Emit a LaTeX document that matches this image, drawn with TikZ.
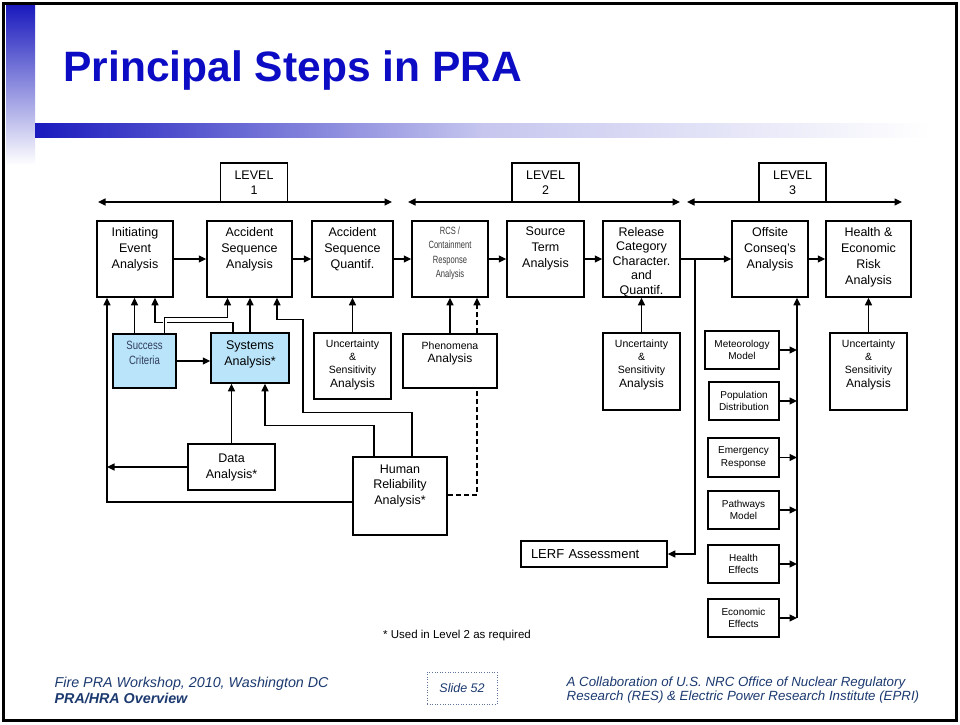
\documentclass[tikz,border=0pt]{standalone}
\usepackage{fontspec}
\usepackage{graphicx}
\setmainfont{Liberation Sans}
\usetikzlibrary{arrows.meta,positioning}
\definecolor{titleblue}{RGB}{12,12,196}
\definecolor{barblue}{RGB}{26,26,190}
\definecolor{footblue}{RGB}{28,58,112}
\definecolor{critfill}{RGB}{185,228,250}
\definecolor{crittext}{RGB}{50,62,92}
\definecolor{rcstext}{RGB}{60,60,60}
\newcommand{\topbox}[4][6pt]{\parbox[c][#3][t]{#2}{\centering\vspace*{#1}#4}}
\begin{document}
\begin{tikzpicture}[x=1pt,y=-1pt,line width=1.3pt,
    >={Triangle[length=7.5pt,width=7pt]},
    box/.style={draw,fill=white,line width=1.5pt,inner sep=0pt,align=center,
      font=\fontsize{12.5}{16}\selectfont},
    smallbox/.style={box,minimum width=71pt,minimum height=38pt,
      font=\fontsize{10}{12.5}\selectfont},
    unbox/.style={box,font=\fontsize{10.5}{13.3}\selectfont},
    levelbox/.style={box,minimum width=67pt,minimum height=39pt,
      font=\fontsize{12.5}{15}\selectfont},
    critbox/.style={box,fill=critfill},
    foot/.style={anchor=base west,inner sep=0pt,text=footblue}]
  \useasboundingbox (0,0) rectangle (960,724);
  \fill[white] (0,0) rectangle (960,724);
  \shade[top color=barblue,bottom color=white] (6,5) rectangle (35,165);
  \shade[left color=barblue,right color=white,middle color=barblue!25] (35,123) rectangle (930,137);
  \draw[line width=3pt] (3.5,3.5) rectangle (956.5,720.5);
  \node[anchor=base west,inner sep=0pt,text=titleblue,
    font=\fontsize{42.5}{48}\selectfont\bfseries] (title) at (63,81) {Principal Steps in PRA};

  \coordinate (l1w) at (98,202);
  \coordinate (l1e) at (392,202);
  \coordinate (l2w) at (408,202);
  \coordinate (l2e) at (680,202);
  \coordinate (l3w) at (687,202);
  \coordinate (l3e) at (902,202);
  \draw[<->] (l1w) -- (l1e);
  \draw[<->] (l2w) -- (l2e);
  \draw[<->] (l3w) -- (l3e);
  \node[levelbox] (lev1) at (254,182.5) {LEVEL\\1};
  \node[levelbox] (lev2) at (545.5,182.5) {LEVEL\\2};
  \node[levelbox] (lev3) at (792.5,182.5) {LEVEL\\3};

  \node[box] (ie) at (135,259) {\topbox{76pt}{76pt}{Initiating\\Event\\Analysis}};
  \node[box] (asa) at (249.5,259) {\topbox{85pt}{76pt}{Accident\\Sequence\\Analysis}};
  \node[box] (asq) at (352.5,259) {\topbox{81pt}{76pt}{Accident\\Sequence\\Quantif.}};
  \node[box,text=rcstext,font=\fontsize{10.5}{14.5}\selectfont] (rcs) at (450,259)
    {\scalebox{0.72}[1]{\topbox[5.5pt]{105.5pt}{76pt}{RCS /\\Containment\\Response\\Analysis}}};
  \node[box] (st) at (545.5,259) {\topbox{77pt}{76pt}{Source\\Term\\Analysis}};
  \node[box,font=\fontsize{12.5}{14.5}\selectfont] (rc) at (641.5,259)
    {\topbox{77pt}{76pt}{Release\\Category\\Character.\\and\\Quantif.}};
  \node[box] (oc) at (770,259) {\topbox{76pt}{76pt}{Offsite\\Conseq's\\Analysis}};
  \node[box] (her) at (868.5,259) {\topbox{85pt}{76pt}{Health \&\\Economic\\Risk\\Analysis}};

  \node[critbox,text=crittext,font=\fontsize{12}{14.5}\selectfont] (sc) at (144.5,361)
    {\scalebox{0.8}[1]{\topbox[7.5pt]{78.75pt}{54pt}{Success\\Criteria}}};
  \node[critbox] (sa) at (250,358) {\topbox[7.5pt]{78pt}{50pt}{Systems\\Analysis*}};
  \node[unbox] (usa1) at (352.5,366)
    {\topbox[6.5pt]{77pt}{66pt}{Uncertainty\\\&\\Sensitivity\\{\fontsize{12}{13.3}\selectfont Analysis}}};
  \node[box,font=\fontsize{12}{13}\selectfont] (pa) at (450,361)
    {\topbox[8pt]{94pt}{54pt}{{\fontsize{10.5}{13}\selectfont Phenomena}\\Analysis}};
  \node[box,minimum width=87pt,minimum height=46pt] (da) at (231.5,467) {Data\\Analysis*};
  \node[box,font=\fontsize{12.5}{15.5}\selectfont] (hra) at (400,496)
    {\topbox[7.5pt]{94pt}{78pt}{Human\\Reliability\\Analysis*}};
  \node[unbox] (usa2) at (641.5,371.5)
    {\topbox[6.5pt]{77pt}{77pt}{Uncertainty\\\&\\Sensitivity\\{\fontsize{12}{13.3}\selectfont Analysis}}};
  \node[unbox] (usa3) at (868.5,371.5)
    {\topbox[6.5pt]{77pt}{77pt}{Uncertainty\\\&\\Sensitivity\\{\fontsize{12}{13.3}\selectfont Analysis}}};

  \node[smallbox,minimum width=74pt] (met) at (742,350) {Meteorology\\Model};
  \node[smallbox,minimum width=70pt] (pop) at (744,401) {Population\\Distribution};
  \node[smallbox,minimum height=39pt] (emr) at (743.5,457.5) {Emergency\\Response};
  \node[smallbox] (pw) at (743.5,510) {Pathways\\Model};
  \node[smallbox] (hef) at (743.5,564) {Health\\Effects};
  \node[smallbox] (eef) at (743.5,618) {Economic\\Effects};
  \node[box,minimum width=146pt,minimum height=26pt,text width=126pt,align=left,
    font=\fontsize{13}{15}\selectfont] (lerf) at (594,554) {LERF Assessment};

  \draw[->] (ie.east) -- (asa.west);
  \draw[->] (asa.east) -- (asq.west);
  \draw[->] (asq.east) -- (rcs.west);
  \draw[->] (rcs.east) -- (st.west);
  \draw[->] (st.east) -- (rc.west);
  \draw[->] (rc.east) -- (oc.west);
  \draw[->] (oc.east) -- (her.west);
  \coordinate (lerfbr) at (695,259);
  \draw[->] (lerfbr) |- (lerf.east);

  \coordinate (bus) at (797,618);
  \draw[->] (bus) -- (bus |- oc.south);
  \foreach \n in {met,pop,emr,pw,hef,eef}
    \draw[->] (\n.east) -- (\n.east -| bus);

  \draw[->] (usa1.north) -- (asq.south);
  \draw[->] (usa2.north) -- (rc.south);
  \draw[->] (usa3.north) -- (her.south);
  \draw[->] (pa.north) -- (rcs.south);
  \draw[dash pattern=on 5pt off 3pt] ([yshift=1pt]hra.east) -| ([xshift=27pt]pa.south);
  \draw[dash pattern=on 5pt off 3pt,->] ([xshift=27pt]pa.north) -- ([xshift=27pt]pa.north |- rcs.south);

  \coordinate (lbus) at ([xshift=-28pt]ie.south);
  \draw[->] ([yshift=-6pt]hra.west) -| (lbus);
  \draw[->] (da.west) -- (da.west -| lbus);
  \draw[->] (da.north) -- (da.north |- sa.south);
  \draw[->] ([xshift=-26pt]hra.north) -- ++(0,-31) -| ([xshift=15pt]sa.south);
  \draw[->] ([xshift=12pt]hra.north) -- ++(0,-44) -| ++(-109,-93) -| ([xshift=27.5pt]asa.south);
  \draw[->] (sa.north) -- (sa.north |- asa.south);
  \draw[->] ([xshift=-10pt]sc.north) -- ([xshift=-10pt]sc.north |- ie.south);
  \draw[->] ([xshift=-17pt]sa.north) -- ++(0,-10) -| ([xshift=20pt]ie.south);
  \draw[->,preaction={draw=white,line width=4pt,-}] ([xshift=20pt]sc.north) -- ++(0,-16) -| ([xshift=-22pt]asa.south);
  \draw[->] (sc.east) -- (sc.east -| sa.west);

  \node[font=\fontsize{11.5}{13}\selectfont] (note) at (457,636) {* Used in Level 2 as required};
  \node[foot,font=\fontsize{14.3}{16}\selectfont\itshape] (foot1) at (54,687) {Fire PRA Workshop, 2010, Washington DC};
  \node[foot,font=\fontsize{14.3}{16}\selectfont\bfseries\itshape] (foot2) at (54,703) {PRA/HRA Overview};
  \node[draw=footblue!70,dotted,line width=0.6pt,minimum width=70pt,minimum height=32pt,
    text=footblue,font=\fontsize{12.5}{14}\selectfont\itshape] (slide) at (462,688) {Slide 52};
  \node[foot,font=\fontsize{13.3}{15}\selectfont\itshape] (foot3) at (566,686) {A Collaboration of U.S. NRC Office of Nuclear Regulatory};
  \node[foot,font=\fontsize{13.3}{15}\selectfont\itshape] (foot4) at (566,700) {Research (RES) \& Electric Power Research Institute (EPRI)};
\end{tikzpicture}
\end{document}
